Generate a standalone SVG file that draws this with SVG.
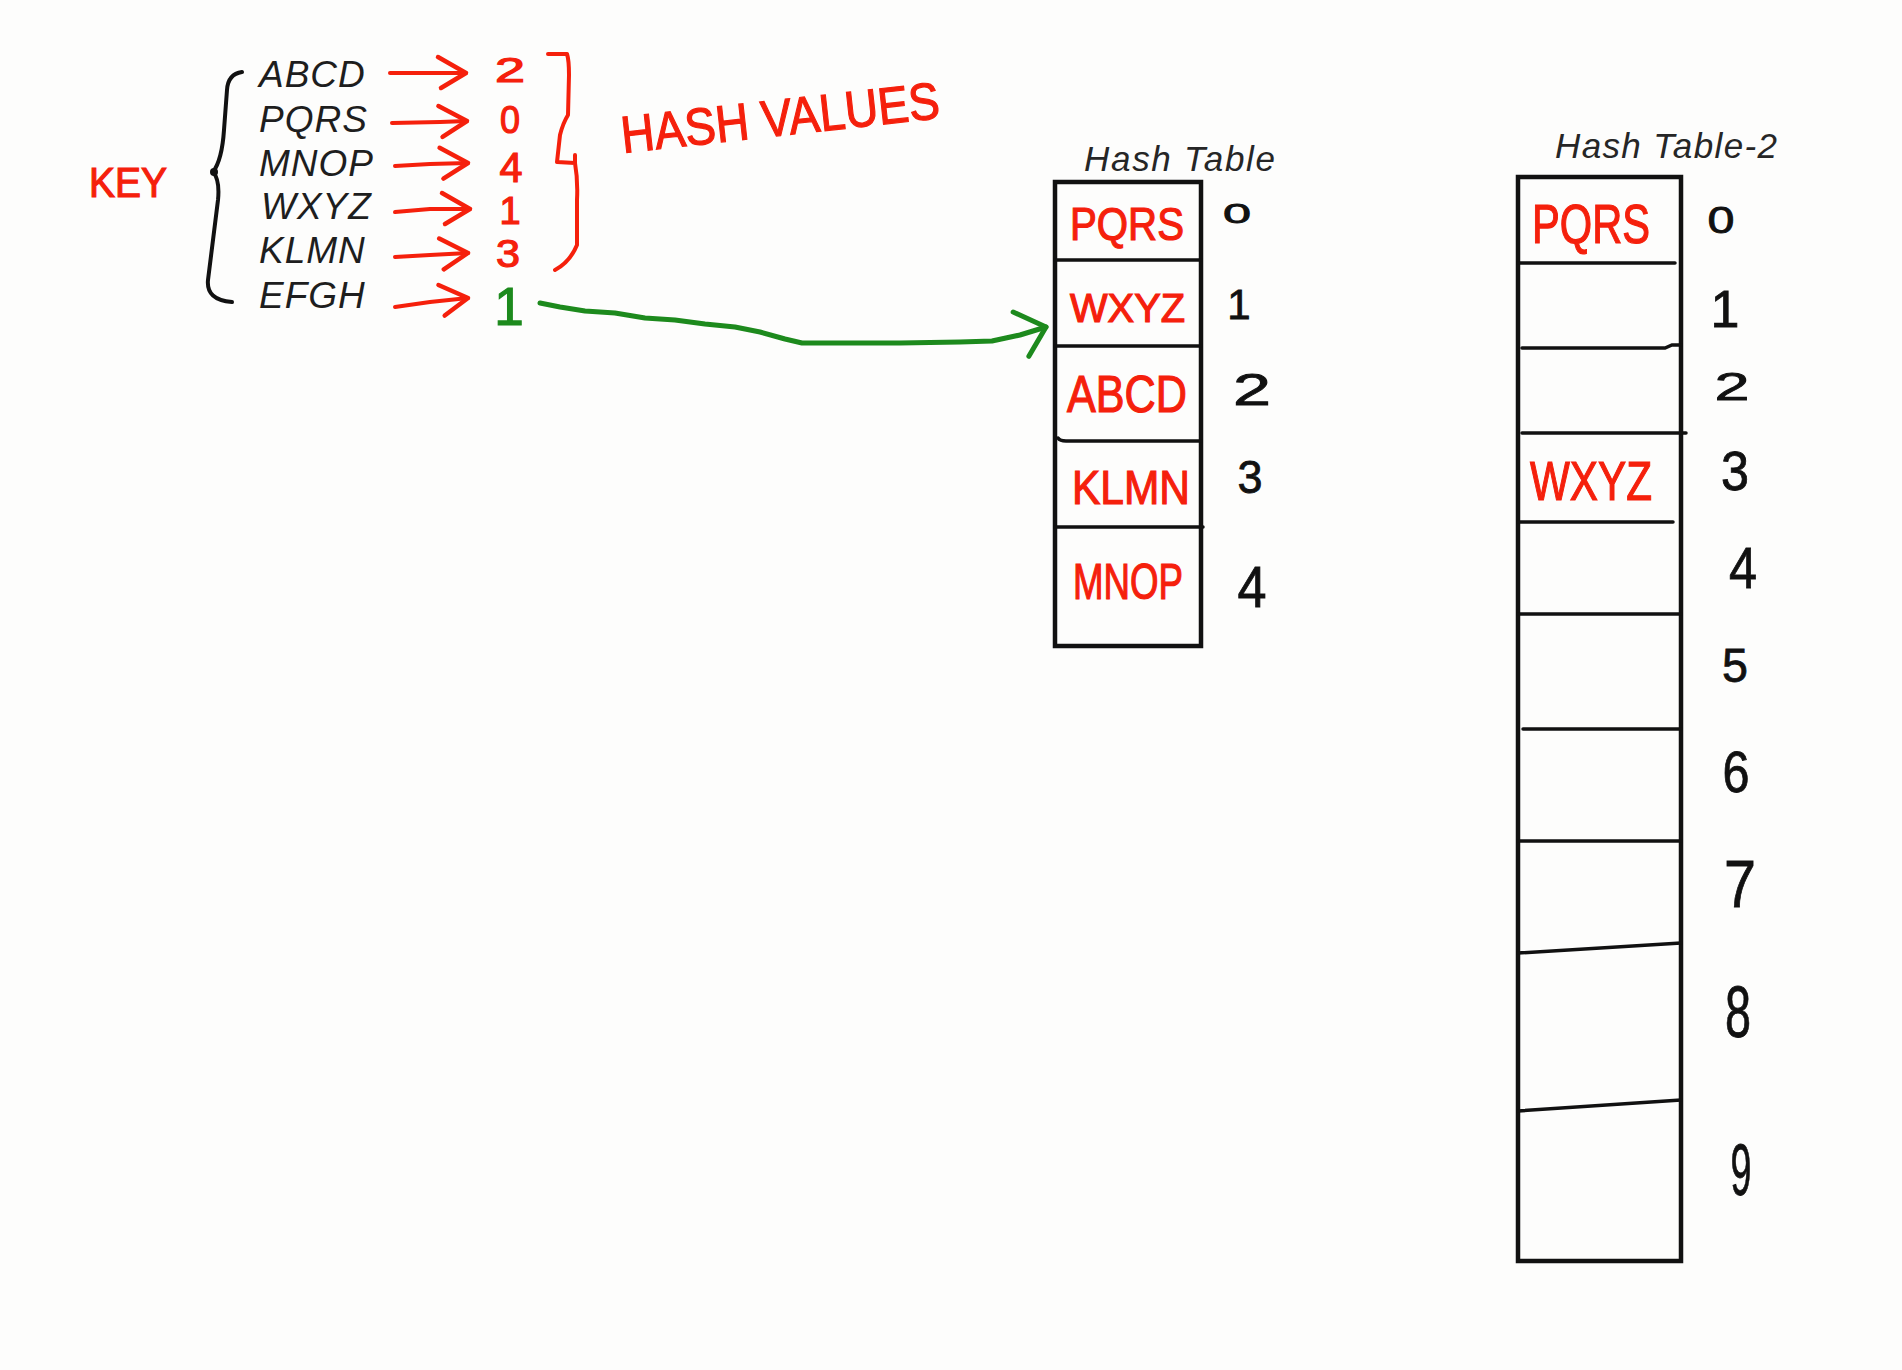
<svg xmlns="http://www.w3.org/2000/svg" width="1902" height="1370" viewBox="0 0 1902 1370">
  <style>
    .key { font-family: "Liberation Sans", Arial, sans-serif; font-style: italic; font-size: 37px; fill: #1e1e1e; letter-spacing: 1px; }
    .title { font-family: "Liberation Sans", Arial, sans-serif; font-style: italic; font-size: 35px; fill: #262626; }
    .red { font-family: "Liberation Sans", Arial, sans-serif; fill: #f5200c; stroke: #f5200c; stroke-width: 1.2; }
    .blk { font-family: "Liberation Sans", Arial, sans-serif; fill: #111; stroke: #111; stroke-width: 0.8; text-anchor: middle; }
    .grn { font-family: "Liberation Sans", Arial, sans-serif; fill: #1d8a1d; stroke: #1d8a1d; stroke-width: 1.2; text-anchor: middle; }
    .redline { fill: none; stroke: #f5200c; stroke-width: 4; stroke-linecap: round; stroke-linejoin: round; }
    .grnline { fill: none; stroke: #1d8a1d; stroke-width: 5; stroke-linecap: round; stroke-linejoin: round; }
    .brace { fill: none; stroke: #111; stroke-width: 4; stroke-linecap: round; stroke-linejoin: round; }
    .box { fill: none; stroke: #111; stroke-width: 4.5; stroke-linejoin: miter; }
    .row { fill: none; stroke: #111; stroke-width: 3.5; stroke-linecap: round; }
  </style>
  <defs>
    <marker id="redHead" markerUnits="userSpaceOnUse" markerWidth="40" markerHeight="44" viewBox="-34 -22 40 44" refX="0" refY="0" orient="auto">
      <path d="M-28,-16 L0,0 L-25,15" fill="none" stroke="#f5200c" stroke-width="4.5" stroke-linecap="round" stroke-linejoin="round"/>
    </marker>
    <marker id="grnHead" markerUnits="userSpaceOnUse" markerWidth="40" markerHeight="60" viewBox="-34 -30 40 60" refX="0" refY="0" orient="auto">
      <path d="M-27,-24 L0,0 L-25,23" fill="none" stroke="#1d8a1d" stroke-width="5" stroke-linecap="round" stroke-linejoin="round"/>
    </marker>
  </defs>
  <rect x="0" y="0" width="1902" height="1370" fill="#fdfdfc"/>

  <g id="key-label">
    <text class="red" x="89" y="197" font-size="42" textLength="78" lengthAdjust="spacingAndGlyphs">KEY</text>
  </g>

  <g id="key-brace">
    <path class="brace" d="M242,72 Q228,74 227,90 L224,130 Q222,160 213,172 Q220,180 218,200 L208,280 Q206,300 232,302"/>
    <circle cx="214" cy="172" r="4" fill="#111"/>
  </g>

  <g id="keys">
    <text class="key" x="259" y="87">ABCD</text>
    <text class="key" x="259" y="132">PQRS</text>
    <text class="key" x="259" y="176">MNOP</text>
    <text class="key" x="261" y="219">WXYZ</text>
    <text class="key" x="259" y="263">KLMN</text>
    <text class="key" x="259" y="308">EFGH</text>
  </g>

  <g id="hash-values">
    <text class="red" x="510" y="82" font-size="35" text-anchor="middle" textLength="30" lengthAdjust="spacingAndGlyphs">2</text>
    <text class="red" x="510" y="133" font-size="38" text-anchor="middle" textLength="20" lengthAdjust="spacingAndGlyphs">0</text>
    <text class="red" x="511" y="182" font-size="42" text-anchor="middle" textLength="23" lengthAdjust="spacingAndGlyphs">4</text>
    <text class="red" x="510" y="224" font-size="38" text-anchor="middle">1</text>
    <text class="red" x="508" y="267" font-size="38" text-anchor="middle" textLength="24" lengthAdjust="spacingAndGlyphs">3</text>
    <text class="grn" x="509" y="325" font-size="53">1</text>
    <path class="redline" d="M548,54 L567,54 Q569,60 569,75 L568,115 Q563,123 560,135 L557,162 L575,163 L575,155 M575,163 Q578,180 577,200 L577,245 Q570,262 555,270"/>
    <text class="red" x="623" y="153" font-size="52" textLength="320" lengthAdjust="spacingAndGlyphs" transform="rotate(-6.3 623 153)">HASH VALUES</text>
  </g>

  <g id="hash-table">
    <text class="title" x="1084" y="171" textLength="191" lengthAdjust="spacing">Hash Table</text>
    <rect class="box" x="1055" y="182" width="146" height="464"/>
    <line class="row" x1="1055" y1="260" x2="1201" y2="260"/>
    <line class="row" x1="1055" y1="346" x2="1201" y2="346"/>
    <path class="row" d="M1058,438 Q1060,441 1066,441 L1201,441"/>
    <line class="row" x1="1055" y1="527" x2="1203" y2="527"/>
    <text class="red" x="1070" y="240" font-size="46" textLength="114" lengthAdjust="spacingAndGlyphs">PQRS</text>
    <text class="red" x="1070" y="322" font-size="40" textLength="115" lengthAdjust="spacingAndGlyphs">WXYZ</text>
    <text class="red" x="1067" y="412" font-size="52" textLength="120" lengthAdjust="spacingAndGlyphs">ABCD</text>
    <text class="red" x="1072" y="504" font-size="48" textLength="118" lengthAdjust="spacingAndGlyphs">KLMN</text>
    <text class="red" x="1073" y="599" font-size="50" textLength="110" lengthAdjust="spacingAndGlyphs">MNOP</text>
    <text class="blk" x="1237" y="223" font-size="28" textLength="28" lengthAdjust="spacingAndGlyphs">0</text>
    <text class="blk" x="1239" y="319" font-size="42">1</text>
    <text class="blk" x="1252" y="405" font-size="44" textLength="38" lengthAdjust="spacingAndGlyphs">2</text>
    <text class="blk" x="1250" y="493" font-size="46" textLength="25" lengthAdjust="spacingAndGlyphs">3</text>
    <text class="blk" x="1252" y="607" font-size="57" textLength="29" lengthAdjust="spacingAndGlyphs">4</text>
  </g>

  <g id="hash-table-2">
    <text class="title" x="1555" y="158" textLength="222" lengthAdjust="spacing">Hash Table-2</text>
    <rect class="box" x="1518" y="177" width="163" height="1084"/>
    <line class="row" x1="1518" y1="263" x2="1675" y2="263"/>
    <path class="row" d="M1522,348 L1665,348 L1672,345 L1681,345"/>
    <line class="row" x1="1522" y1="433" x2="1686" y2="433"/>
    <line class="row" x1="1518" y1="522" x2="1673" y2="522"/>
    <line class="row" x1="1518" y1="614" x2="1681" y2="614"/>
    <line class="row" x1="1523" y1="729" x2="1681" y2="729"/>
    <line class="row" x1="1518" y1="841" x2="1681" y2="841"/>
    <line class="row" x1="1518" y1="953" x2="1681" y2="943"/>
    <line class="row" x1="1518" y1="1111" x2="1681" y2="1100"/>
    <text class="red" x="1532" y="243" font-size="56" textLength="118" lengthAdjust="spacingAndGlyphs">PQRS</text>
    <text class="red" x="1530" y="500" font-size="56" textLength="122" lengthAdjust="spacingAndGlyphs">WXYZ</text>
    <text class="blk" x="1721" y="233" font-size="36" textLength="27" lengthAdjust="spacingAndGlyphs">0</text>
    <text class="blk" x="1725" y="327" font-size="52">1</text>
    <text class="blk" x="1732" y="400" font-size="38" textLength="35" lengthAdjust="spacingAndGlyphs">2</text>
    <text class="blk" x="1735" y="490" font-size="56" textLength="28" lengthAdjust="spacingAndGlyphs">3</text>
    <text class="blk" x="1743" y="588" font-size="58" textLength="28" lengthAdjust="spacingAndGlyphs">4</text>
    <text class="blk" x="1735" y="682" font-size="49" textLength="26" lengthAdjust="spacingAndGlyphs">5</text>
    <text class="blk" x="1736" y="792" font-size="58" textLength="27" lengthAdjust="spacingAndGlyphs">6</text>
    <text class="blk" x="1740" y="907" font-size="66" textLength="32" lengthAdjust="spacingAndGlyphs">7</text>
    <text class="blk" x="1738" y="1037" font-size="72" textLength="26" lengthAdjust="spacingAndGlyphs">8</text>
    <text class="blk" x="1741" y="1195" font-size="72" textLength="21" lengthAdjust="spacingAndGlyphs">9</text>
  </g>

  <g id="connectors">
    <path class="redline" d="M390,73 L466,73" marker-end="url(#redHead)"/>
    <path class="redline" d="M392,123 L440,122 L467,121" marker-end="url(#redHead)"/>
    <path class="redline" d="M395,166 L430,164 L468,163" marker-end="url(#redHead)"/>
    <path class="redline" d="M395,212 L430,209 L470,209" marker-end="url(#redHead)"/>
    <path class="redline" d="M395,257 L430,255 L468,253" marker-end="url(#redHead)"/>
    <path class="redline" d="M395,307 L430,302 L468,298" marker-end="url(#redHead)"/>
    <path class="grnline" d="M540,303 L560,307 L585,311 L615,313 L645,318 L675,320 L705,324 L735,327 L760,332 L785,339 L802,343 L900,343 L960,342 L992,341 L1020,335 L1046,327" marker-end="url(#grnHead)"/>
  </g>
</svg>
